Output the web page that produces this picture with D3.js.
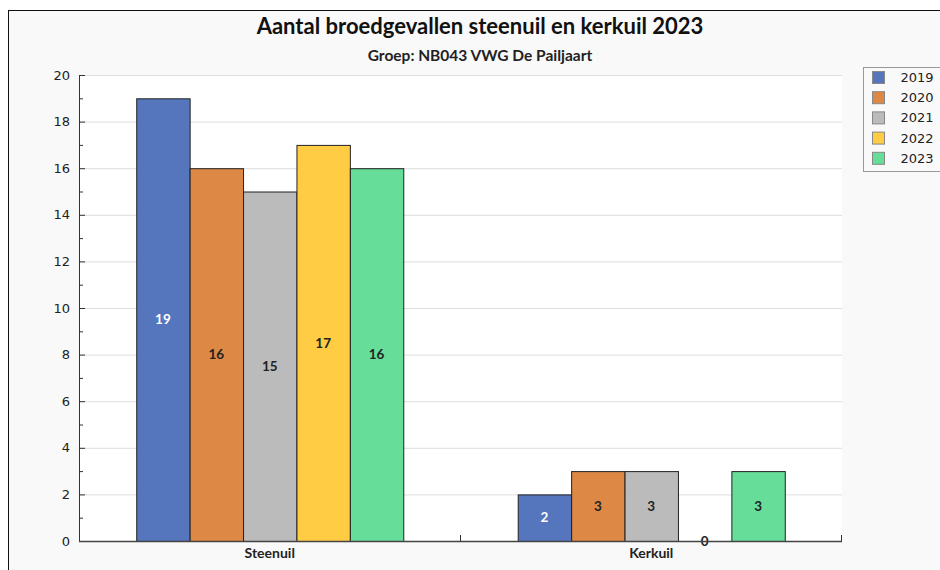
<!DOCTYPE html>
<html lang="nl">
<head>
  <meta charset="UTF-8">
  <title>Aantal broedgevallen steenuil en kerkuil 2023</title>
  <script src="https://d3js.org/d3.v7.min.js"></script>
  <style>
    body { margin: 0; background: #ffffff; }
    svg { display: block; }
    .tick text { font-family: "DejaVu Sans", sans-serif; font-size: 13px; fill: #222; }
  </style>
</head>
<body>
  <svg width="940" height="570"></svg>

  <script>
    // data
    const categories = ["Steenuil", "Kerkuil"];
    const years = ["2019", "2020", "2021", "2022", "2023"];
    const values2019 = [19, 2];
    const values2020 = [16, 3];
    const values2021 = [15, 3];
    const values2022 = [17, 0];
    const values2023 = [16, 3];
    const yTicks = [0, 2, 4, 6, 8, 10, 12, 14, 16, 18, 20];

    const series = [values2019, values2020, values2021, values2022, values2023];
    const colors = ["#5575bd", "#dd8844", "#bbbbbb", "#ffcc44", "#66dd99"];
    const labelColors = ["#ffffff", "#222222", "#222222", "#222222", "#222222"];

    const svg = d3.select("svg");

    // outer panel
    svg.append("rect")
      .attr("x", 8.5).attr("y", 10.5)
      .attr("width", 960).attr("height", 600)
      .attr("fill", "#f9f9f9")
      .attr("stroke", "#111")
      .attr("stroke-width", 1);

    const margin = { top: 75, left: 79 };
    const width = 842 - 79;
    const height = 541 - 75;

    const g = svg.append("g")
      .attr("transform", `translate(${margin.left},${margin.top})`);

    g.append("rect")
      .attr("width", width).attr("height", height)
      .attr("fill", "#ffffff");

    const x0 = d3.scaleBand().domain(categories).range([0, width]).paddingInner(0).paddingOuter(0);
    const x1 = d3.scaleBand().domain(years).range([0, x0.bandwidth() * 0.7]);
    const y = d3.scaleLinear().domain([0, 20]).range([height, 0]);

    // gridlines
    g.append("g")
      .selectAll("line")
      .data(yTicks.filter(d => d > 0))
      .enter().append("line")
      .attr("x1", 0).attr("x2", width)
      .attr("y1", d => y(d) + 0.5).attr("y2", d => y(d) + 0.5)
      .attr("stroke", "#dddddd");

    // bars
    const groups = g.selectAll(".grp")
      .data(categories)
      .enter().append("g")
      .attr("transform", c => `translate(${x0(c) + x0.bandwidth() * 0.15},0)`);

    years.forEach((yr, i) => {
      groups.filter(c => series[i][categories.indexOf(c)] > 0)
        .append("rect")
        .attr("x", x1(yr) + 0.5)
        .attr("y", c => y(series[i][categories.indexOf(c)]) + 0.5)
        .attr("width", x1.bandwidth())
        .attr("height", c => y(0) - y(series[i][categories.indexOf(c)]))
        .attr("fill", colors[i])
        .attr("stroke", "#222")
        .attr("stroke-width", 1);

      groups.append("text")
        .attr("x", x1(yr) + x1.bandwidth() / 2)
        .attr("y", c => y(series[i][categories.indexOf(c)] / 2))
        .attr("dy", "0.35em")
        .attr("text-anchor", "middle")
        .style("font-family", "Lato, sans-serif")
        .style("font-weight", "bold")
        .style("font-size", "13.5px")
        .attr("fill", labelColors[i])
        .text(c => series[i][categories.indexOf(c)]);
    });

    // y axis, ticks pointing into the plot
    const yAxis = g.append("g")
      .call(d3.axisLeft(y).tickValues(yTicks).tickSizeInner(-6).tickSizeOuter(0).tickPadding(9));
    yAxis.select(".domain").attr("stroke", "#333");
    yAxis.selectAll(".tick line").attr("stroke", "#333");

    g.append("g")
      .call(d3.axisLeft(y).tickValues(d3.range(1, 20, 2)).tickSize(-4).tickFormat(""))
      .call(a => a.select(".domain").remove())
      .selectAll(".tick line").attr("stroke", "#333");

    // x axis
    g.append("line")
      .attr("x1", 0).attr("x2", width)
      .attr("y1", height + 0.5).attr("y2", height + 0.5)
      .attr("stroke", "#444").attr("stroke-width", 1.5);

    g.selectAll(".sep")
      .data([x0.bandwidth(), width])
      .enter().append("line")
      .attr("x1", d => Math.round(d) - 0.5).attr("x2", d => Math.round(d) - 0.5)
      .attr("y1", height).attr("y2", height - 6)
      .attr("stroke", "#333");

    g.selectAll(".cat")
      .data(categories)
      .enter().append("text")
      .attr("x", c => x0(c) + x0.bandwidth() / 2)
      .attr("y", height + 17)
      .attr("text-anchor", "middle")
      .style("font-family", "Lato, sans-serif")
      .style("font-weight", "bold")
      .style("font-size", "14px")
      .attr("fill", "#222")
      .text(c => c);

    // titles
    svg.append("text")
      .attr("x", 480).attr("y", 34)
      .attr("text-anchor", "middle")
      .style("font-family", "Lato, sans-serif")
      .style("font-weight", "bold")
      .style("font-size", "22px")
      .attr("fill", "#111")
      .text("Aantal broedgevallen steenuil en kerkuil 2023");

    svg.append("text")
      .attr("x", 480).attr("y", 61)
      .attr("text-anchor", "middle")
      .style("font-family", "Lato, sans-serif")
      .style("font-weight", "bold")
      .style("font-size", "15.5px")
      .attr("fill", "#222")
      .text("Groep: NB043 VWG De Pailjaart");

    // legend
    const legend = svg.append("g").attr("transform", "translate(863.5,67.5)");
    legend.append("rect")
      .attr("width", 100).attr("height", 104)
      .attr("fill", "#f9f9f9")
      .attr("stroke", "#999");

    const item = legend.selectAll(".item")
      .data(years)
      .enter().append("g")
      .attr("transform", (d, i) => `translate(0,${i * 20.2})`);

    item.append("rect")
      .attr("x", 9).attr("y", 4)
      .attr("width", 12).attr("height", 12)
      .attr("fill", (d, i) => colors[i])
      .attr("stroke", "#888");

    item.append("text")
      .attr("x", 37).attr("y", 10)
      .attr("dy", "0.35em")
      .style("font-family", "DejaVu Sans, sans-serif")
      .style("font-size", "13px")
      .attr("fill", "#222")
      .text(d => d);
  </script>
</body>
</html>
